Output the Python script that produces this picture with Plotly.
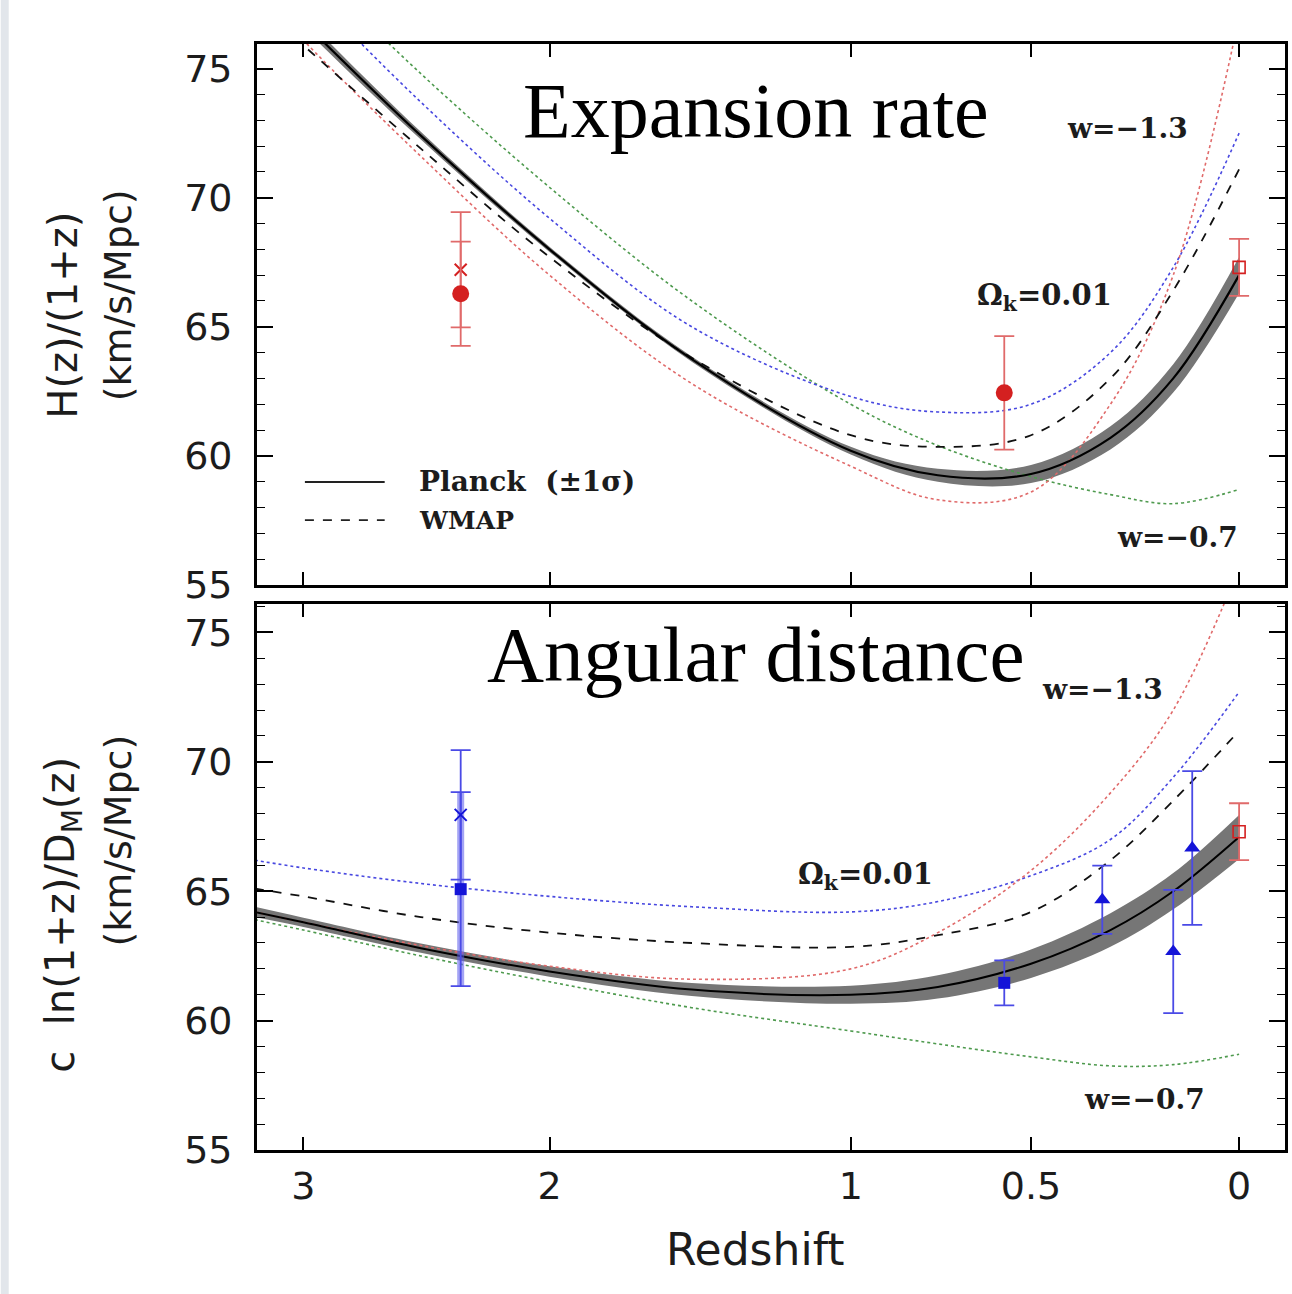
import numpy as np
import plotly.graph_objects as go

# ---------------------------------------------------------------
# Data
# ---------------------------------------------------------------
# Redshift grid at which the model curves are tabulated
z_grid = [3.22, 3.0, 2.5, 2.0, 1.5, 1.0, 0.75, 0.5, 0.3, 0.15, 0.0]

# Top panel: H(z)/(1+z) [km/s/Mpc]
h_planck = [78.7, 76.8, 72.4, 68.0, 63.75, 60.2, 59.25, 59.3, 60.7, 63.0, 67.0]
h_planck_lo = [78.45, 76.58, 72.25, 67.9, 63.65, 60.05, 59.0, 58.95, 60.25, 62.45, 66.3]
h_planck_hi = [78.95, 77.02, 72.55, 68.1, 63.85, 60.35, 59.5, 59.65, 61.15, 63.55, 67.7]
h_wmap = [77.6, 75.9, 71.9, 67.7, 63.8, 60.8, 60.35, 60.8, 63.0, 66.4, 71.1]
h_omk = [80.0, 78.2, 73.7, 69.2, 65.0, 62.3, 61.7, 62.0, 64.0, 67.3, 72.5]
h_wm13 = [78.2, 76.1, 71.6, 67.0, 62.8, 59.6, 58.3, 58.6, 62.0, 67.0, 77.0]
h_wm07 = [81.0, 79.2, 74.8, 70.4, 66.0, 62.0, 60.4, 59.2, 58.5, 58.15, 58.7]

# Bottom panel: c ln(1+z)/D_M(z) [km/s/Mpc]
d_planck = [64.2, 63.8, 62.8, 61.9, 61.2, 61.0, 61.3, 62.2, 63.5, 65.0, 67.1]
d_planck_lo = [64.0, 63.62, 62.62, 61.7, 60.95, 60.65, 60.85, 61.65, 62.85, 64.3, 66.25]
d_planck_hi = [64.4, 63.98, 62.98, 62.1, 61.45, 61.35, 61.75, 62.75, 64.15, 65.7, 67.95]
d_wmap = [65.1, 64.8, 64.0, 63.4, 63.0, 62.85, 63.3, 64.2, 66.2, 68.5, 71.2]
d_omk = [66.2, 65.9, 65.3, 64.8, 64.4, 64.2, 64.6, 65.6, 67.0, 69.4, 72.7]
d_wm13 = [64.2, 63.8, 62.9, 62.1, 61.6, 62.0, 63.4, 65.8, 68.8, 72.0, 77.5]
d_wm07 = [63.9, 63.5, 62.5, 61.5, 60.5, 59.6, 59.1, 58.6, 58.25, 58.3, 58.7]

# Measurements, H(z)/(1+z)
hz_z = [2.34, 0.57]
hz_val = [66.28, 62.44]
hz_err = [2.02, 2.2]
hz_alt_z = [2.34]
hz_alt_val = [67.21]
hz_alt_err = [2.23]

# Measurements, c ln(1+z)/D_M
dm_lya_z = [2.34]
dm_lya_val = [65.08]
dm_lya_err = [3.75]
dm_alt_z = [2.34]
dm_alt_val = [67.95]
dm_alt_err = [2.5]
dm_cmass_z = [0.57]
dm_cmass_val = [61.46]
dm_cmass_err = [0.87]
dm_tri_z = [0.32, 0.15, 0.106]
dm_tri_val = [64.67, 62.67, 66.67]
dm_tri_err = [1.32, 2.38, 2.97]

# Local Hubble constant (z = 0)
h0_z = [0.0]
h0_val = [67.3]
h0_err = [1.1]

# Axis ticks
x_tick_z = [3, 2, 1, 0.5, 0]
x_tick_text = ["3", "2", "1", "0.5", "0"]
y_tick_vals = [55, 60, 65, 70, 75]


def zpos(z):
    """Horizontal coordinate used for the redshift axis."""
    return np.log1p(np.asarray(z, dtype=float) / 3.0)


RED = "#d42020"
RED_BAR = "#e06a6a"
BLUE = "#1414d8"
BLUE_BAR = "#4a4ae6"
FONT_SANS = "DejaVu Sans"
FONT_SERIF = "DejaVu Serif"
TXT = "#1c1c1c"

fig = go.Figure()


def add_band(lo, hi, xa, ya):
    fig.add_trace(go.Scatter(x=zpos(z_grid), y=lo, mode="lines",
                             line=dict(width=0, shape="spline", color="rgba(0,0,0,0)"),
                             xaxis=xa, yaxis=ya, showlegend=False, hoverinfo="skip"))
    fig.add_trace(go.Scatter(x=zpos(z_grid), y=hi, mode="lines",
                             line=dict(width=0, shape="spline", color="rgba(0,0,0,0)"),
                             fill="tonexty", fillcolor="#767676",
                             xaxis=xa, yaxis=ya, showlegend=False, hoverinfo="skip"))


def add_curve(vals, color, dash, width, xa, ya):
    fig.add_trace(go.Scatter(x=zpos(z_grid), y=vals, mode="lines",
                             line=dict(color=color, dash=dash, width=width, shape="spline"),
                             xaxis=xa, yaxis=ya, showlegend=False, hoverinfo="skip"))


def add_points(zs, vals, errs, symbol, size, color, bar_color, xa, ya,
               thickness=1.8, cap=10, open_marker=False, mline=0):
    fig.add_trace(go.Scatter(
        x=zpos(zs), y=vals, mode="markers",
        marker=dict(symbol=symbol, size=size,
                    color=("rgba(0,0,0,0)" if open_marker else color),
                    line=dict(color=color, width=mline)),
        error_y=dict(type="data", array=errs, visible=True, color=bar_color,
                     thickness=thickness, width=cap),
        xaxis=xa, yaxis=ya, showlegend=False, hoverinfo="skip"))


# ---------------- top panel ----------------
add_band(h_planck_lo, h_planck_hi, "x", "y")
add_curve(h_wm07, "#4e9a4e", "dot", 1.6, "x", "y")
add_curve(h_omk, "#4848e0", "dot", 1.6, "x", "y")
add_curve(h_wm13, "#e06a6a", "dot", 1.6, "x", "y")
add_curve(h_wmap, "#111111", "dash", 1.8, "x", "y")
add_curve(h_planck, "#000000", "solid", 2.2, "x", "y")
add_points(hz_alt_z, hz_alt_val, hz_alt_err, "x-thin", 12, RED, RED_BAR, "x", "y", mline=2)
add_points(hz_z, hz_val, hz_err, "circle", 17, RED, RED_BAR, "x", "y")
add_points(h0_z, h0_val, h0_err, "square", 12, RED, RED_BAR, "x", "y", open_marker=True, mline=1.6)

# ---------------- bottom panel ----------------
add_band(d_planck_lo, d_planck_hi, "x2", "y2")
add_curve(d_wm07, "#4e9a4e", "dot", 1.6, "x2", "y2")
add_curve(d_omk, "#4848e0", "dot", 1.6, "x2", "y2")
add_curve(d_wm13, "#e06a6a", "dot", 1.6, "x2", "y2")
add_curve(d_wmap, "#111111", "dash", 1.8, "x2", "y2")
add_curve(d_planck, "#000000", "solid", 2.0, "x2", "y2")
# thick translucent bar for the Lyman-alpha point
fig.add_trace(go.Scatter(
    x=zpos(dm_lya_z), y=dm_lya_val, mode="markers",
    marker=dict(size=1, color="rgba(0,0,0,0)"),
    error_y=dict(type="data", array=dm_lya_err, visible=True,
                 color="rgba(90,90,235,0.55)", thickness=7, width=0),
    xaxis="x2", yaxis="y2", showlegend=False, hoverinfo="skip"))
add_points(dm_lya_z, dm_lya_val, dm_lya_err, "square", 12, BLUE, BLUE_BAR, "x2", "y2")
add_points(dm_alt_z, dm_alt_val, dm_alt_err, "x-thin", 12, BLUE, BLUE_BAR, "x2", "y2", mline=2)
add_points(dm_cmass_z, dm_cmass_val, dm_cmass_err, "square", 12, BLUE, BLUE_BAR, "x2", "y2")
add_points(dm_tri_z, dm_tri_val, dm_tri_err, "triangle-up", 14, BLUE, BLUE_BAR, "x2", "y2")
add_points(h0_z, h0_val, h0_err, "square", 12, RED, RED_BAR, "x2", "y2", open_marker=True, mline=1.6)

# ---------------- axes ----------------
x_range = [0.7275, -0.034]
common_x = dict(range=x_range, tickmode="array", tickvals=zpos(x_tick_z), ticktext=x_tick_text,
                ticks="inside", ticklen=13, tickwidth=1.6, tickcolor="black",
                showline=True, linewidth=2.8, linecolor="black", mirror="allticks",
                showgrid=False, zeroline=False,
                tickfont=dict(family=FONT_SANS, size=38, color=TXT))
common_y = dict(tickmode="array", tickvals=y_tick_vals,
                ticks="inside", ticklen=16, tickwidth=1.6, tickcolor="black",
                minor=dict(dtick=1, ticklen=8, tickwidth=1.4, tickcolor="black", ticks="inside"),
                showline=True, linewidth=2.8, linecolor="black", mirror="allticks",
                showgrid=False, zeroline=False, ticklabelstandoff=14,
                tickfont=dict(family=FONT_SANS, size=38, color=TXT))

W, H = 1292, 1294
L, R, T, B = 257, 4, 44, 144
ph = H - T - B
top_dom = [(1150 - 585) / ph, 1.0]
bot_dom = [0.0, (1150 - 604) / ph]

fig.update_layout(
    width=W, height=H,
    margin=dict(l=L, r=R, t=T, b=B),
    paper_bgcolor="white", plot_bgcolor="white",
    showlegend=False,
    xaxis=dict(**common_x, domain=[0, 1], anchor="y", showticklabels=False),
    yaxis=dict(**common_y, domain=top_dom, range=[55, 75.95], anchor="x"),
    xaxis2=dict(**common_x, domain=[0, 1], anchor="y2", matches="x"),
    yaxis2=dict(**common_y, domain=bot_dom, range=[55, 76.1], anchor="x2"),
)

ann = []


def lab(text, x, y, size, xref, yref, family=FONT_SERIF, color=TXT, angle=0,
        xanchor="center", weight="bold"):
    ann.append(dict(text=text, x=x, y=y, xref=xref, yref=yref, showarrow=False,
                    font=dict(family=family, size=size, color=color, weight=weight),
                    textangle=angle, xanchor=xanchor, yanchor="middle"))


# panel titles
lab("Expansion rate", 0.485, 0.878, 78, "x domain", "y domain",
    family="Liberation Serif", color="black", weight="normal")
lab("Angular distance", 0.485, 0.9066, 79, "x2 domain", "y2 domain",
    family="Liberation Serif", color="black", weight="normal")

# model labels
lab("w=\u22121.3", 0.8468, 0.8447, 28, "x domain", "y domain")
lab("\u03a9<sub>k</sub>=0.01", 0.7662, 0.5323, 29, "x domain", "y domain")
lab("w=\u22120.7", 0.8952, 0.0887, 28, "x domain", "y domain")
lab("w=\u22121.3", 0.8225, 0.8425, 28, "x2 domain", "y2 domain")
lab("\u03a9<sub>k</sub>=0.01", 0.5917, 0.5018, 29, "x2 domain", "y2 domain")
lab("w=\u22120.7", 0.8632, 0.0916, 28, "x2 domain", "y2 domain")

# legend
lab("Planck  (\u00b11\u03c3)", 0.156, 0.1904, 28, "x domain", "y domain", xanchor="left")
lab("WMAP", 0.156, 0.1201, 25, "x domain", "y domain", xanchor="left")

# axis titles
lab("H(z)/(1+z)", -0.189, 0.755, 40, "paper", "paper", family=FONT_SANS, angle=-90, weight="normal")
lab("(km/s/Mpc)", -0.135, 0.773, 38, "paper", "paper", family=FONT_SANS, angle=-90, weight="normal")
lab("c  ln(1+z)/D<sub>M</sub>(z)", -0.189, 0.2125, 40, "paper", "paper", family=FONT_SANS,
    angle=-90, weight="normal")
lab("(km/s/Mpc)", -0.135, 0.280, 38, "paper", "paper", family=FONT_SANS, angle=-90, weight="normal")
lab("Redshift", 0.485, -0.0904, 44, "paper", "paper", family=FONT_SANS, weight="normal")

fig.update_layout(annotations=ann)

shapes = [
    dict(type="line", xref="x domain", yref="y domain", x0=0.0466, x1=0.1242, y0=0.1904, y1=0.1904,
         line=dict(color="#222", width=1.8)),
    dict(type="line", xref="x domain", yref="y domain", x0=0.0466, x1=0.1242, y0=0.1201, y1=0.1201,
         line=dict(color="#222", width=1.8, dash="dash")),
    # light strip along the left edge of the page
    dict(type="rect", xref="paper", yref="paper", x0=-L / (W - L - R), x1=(8 - L) / (W - L - R),
         y0=-B / ph, y1=(H - B) / ph, fillcolor="#e2e6eb", line=dict(width=0), layer="below"),
]
fig.update_layout(shapes=shapes)

fig.write_html("out.html")
